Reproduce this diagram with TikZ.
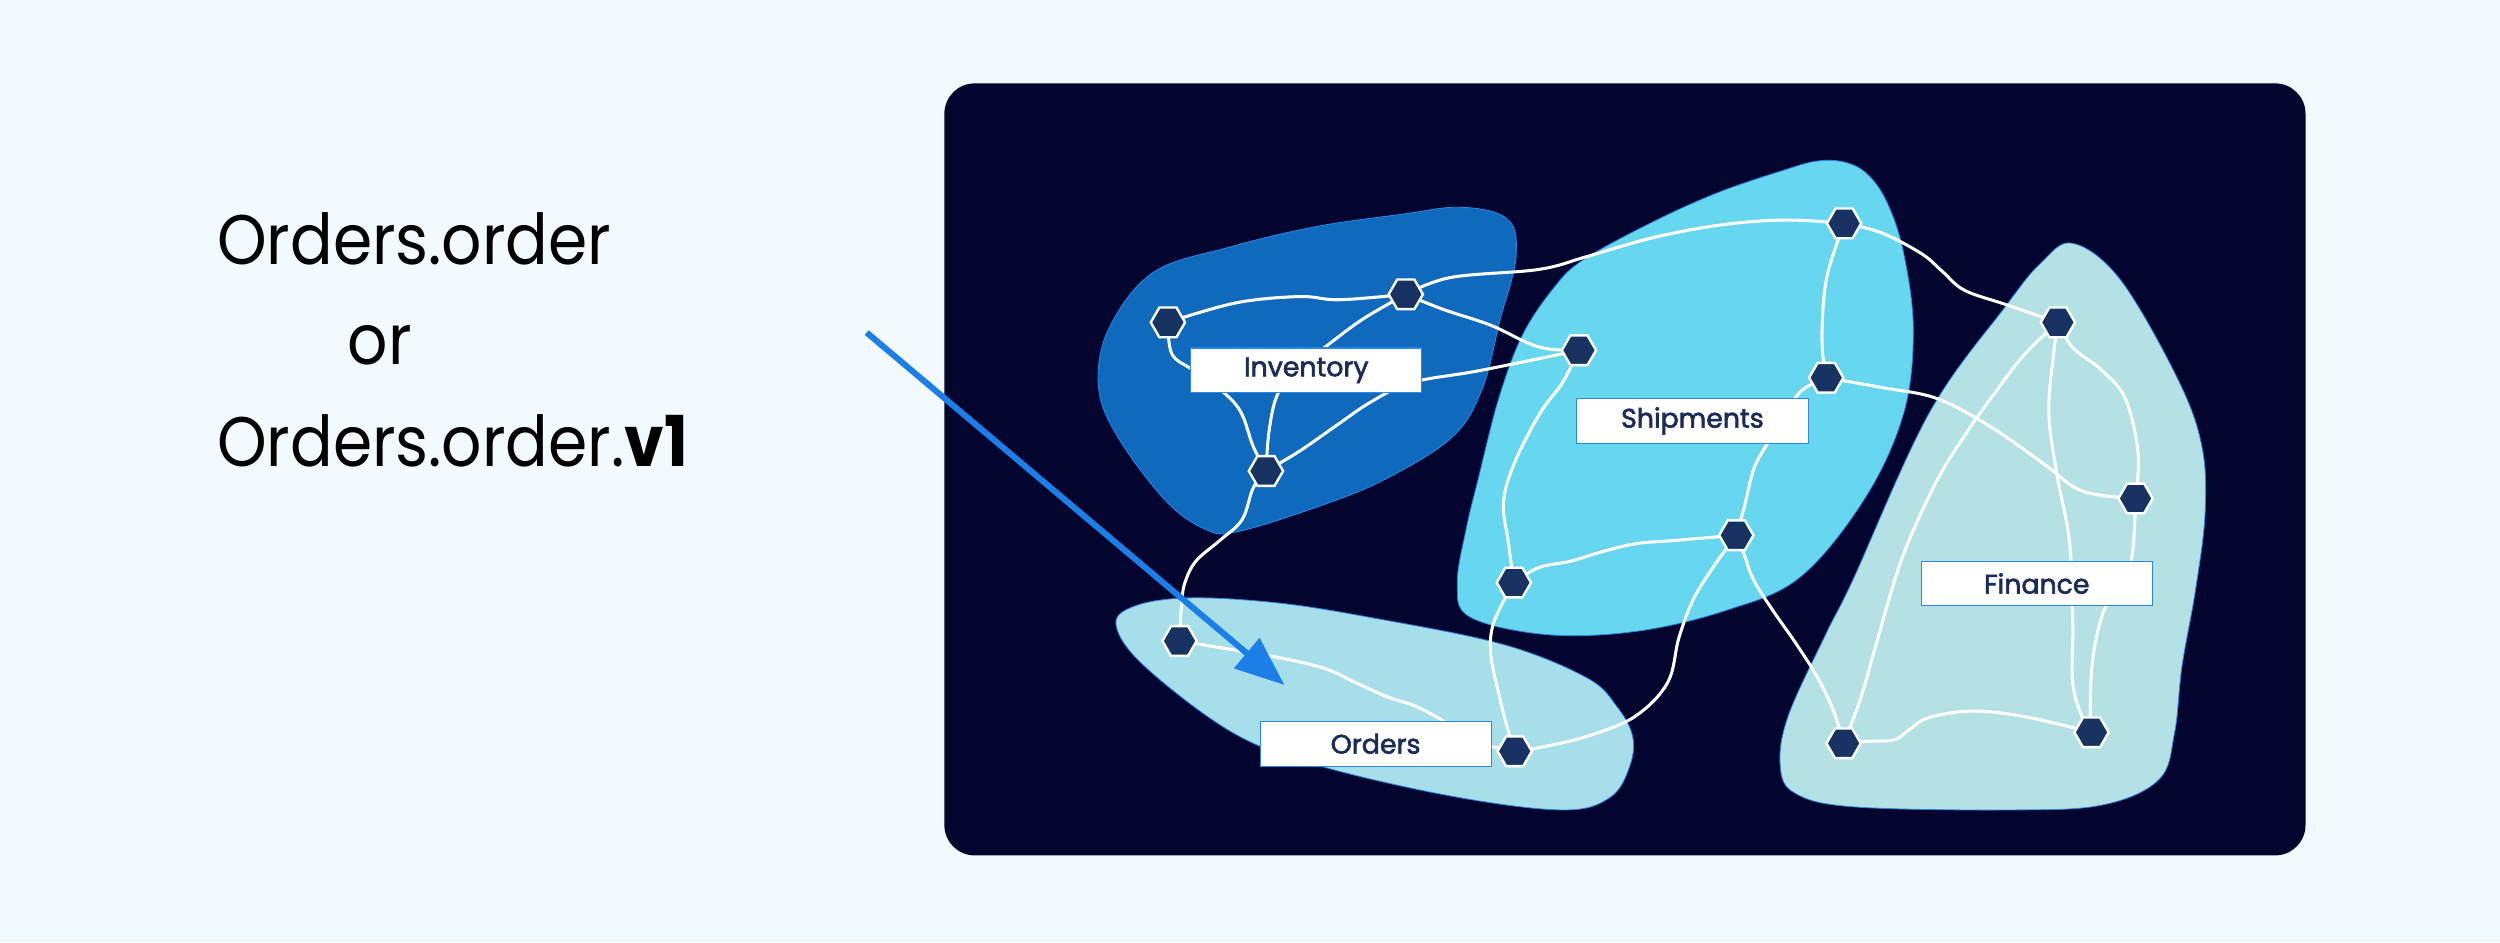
\documentclass[tikz,border=0pt]{standalone}
\usepackage{fontspec}
\setmainfont{Poppins}
\newfontfamily\labfont{Poppins}[FakeBold=2.2]
\usetikzlibrary{shapes.geometric,arrows.meta}
\definecolor{pagebg}{HTML}{F3FAFE}
\definecolor{panel}{HTML}{03052E}
\definecolor{invblue}{HTML}{0F69BD}
\definecolor{shipcyan}{HTML}{67D7F0}
\definecolor{ordblue}{HTML}{A6DEEA}
\definecolor{finteal}{HTML}{B4E1E4}
\definecolor{hexfill}{HTML}{183361}
\definecolor{edgeblue}{HTML}{2B86E6}
\definecolor{labtext}{HTML}{1B2D57}
\definecolor{arrowblue}{HTML}{1C7FE8}
\pgfdeclarelayer{bg}
\pgfdeclarelayer{edges}
\pgfsetlayers{bg,edges,main}
\begin{document}
\begin{tikzpicture}[x=1pt,y=-1pt,
  hexnode/.style={regular polygon, regular polygon sides=6, minimum size=21.5pt, inner sep=0pt, fill=hexfill, draw=white, line width=1.5pt},
  labelbox/.style={rectangle, fill=white, draw=edgeblue, line width=0.7pt, minimum width=145pt, minimum height=28pt, inner sep=0pt, text=labtext, font=\labfont\fontsize{16.8}{19}\selectfont},
  link/.style={draw=white, line width=1.9pt},
  blob/.style={draw=edgeblue, line width=0.5pt},
  bigtext/.style={anchor=base west, inner sep=0pt, text=black, font=\fontsize{44}{50}\selectfont}]
\useasboundingbox (0,0) rectangle (1568,591);

% left text
\node[bigtext] (t1) at (136,166) {\scalebox{0.9}[1]{Orders.order}};
\node[bigtext] (t2) at (218,228.5) {\scalebox{0.9}[1]{or}};
\node[bigtext] (t3) at (136,292.5) {\scalebox{0.9}[1]{Orders.order.{\bfseries v1}}};

% hex nodes
\node[hexnode] (I1) at (732.5,202.2) {};
\node[hexnode] (I2) at (881.7,184.6) {};
\node[hexnode] (I3) at (794,295.4) {};
\node[hexnode] (S0) at (990.3,219.7) {};
\node[hexnode] (S1) at (1156.6,140.1) {};
\node[hexnode] (S2) at (1145.4,236.9) {};
\node[hexnode] (S3) at (1089,335.7) {};
\node[hexnode] (S4) at (949.5,365.4) {};
\node[hexnode] (O1) at (739.8,402) {};
\node[hexnode] (O2) at (950,471.2) {};
\node[hexnode] (F1) at (1290.7,202.2) {};
\node[hexnode] (F2) at (1339.4,312.6) {};
\node[hexnode] (F3) at (1156.3,466.2) {};
\node[hexnode] (F4) at (1311.8,459.3) {};

% labels
\node[labelbox] (Linv) at (819.3,232.3) {Inventory};
\node[labelbox] (Lship) at (1061.5,264) {Shipments};
\node[labelbox] (Lfin) at (1277.5,366) {Finance};
\node[labelbox] (Lord) at (862.8,466.5) {Orders};

% arrow
\coordinate (arrS) at (543.6,208.6);
\coordinate (arrE) at (805.6,429.6);
\draw[arrowblue, line width=3.8pt, -{Triangle[length=31pt,width=24pt]}] (arrS) -- (arrE);

\begin{pgfonlayer}{edges}
\draw[link] plot[smooth, tension=0.6] coordinates {(I1) (775,190) (815,186) (840,188) (I2)};
\draw[link] plot[smooth, tension=0.6] coordinates {(I1) (735,222) (748,232) (765,244) (778,258) (786,280) (I3)};
\draw[link] plot[smooth, tension=0.6] coordinates {(I2) (855,200) (832,217) (812,233) (801,248) (796,270) (I3)};
\draw[link] plot[smooth, tension=0.6] coordinates {(I2) (905,194) (935,204) (958,215) (972,219) (S0)};
\draw[link] plot[smooth, tension=0.6] coordinates {(I2) (910,174) (965,169) (995,161) (1037,149) (1080,141) (1120,138) (S1)};
\draw[link] plot[smooth, tension=0.6] coordinates {(I3) (815,283) (838,267) (860,252) (885,240) (925,233) (965,225) (S0)};
\draw[link] plot[smooth, tension=0.6] coordinates {(I3) (786,306) (779,326) (765,339) (750,352) (743,366) (741,380) (O1)};
\draw[link] plot[smooth, tension=0.6] coordinates {(S0) (980,240) (966,259) (950,290) (943,315) (946,340) (S4)};
\draw[link] plot[smooth, tension=0.6] coordinates {(S4) (965,356) (985,352) (1005,346) (1026,341) (1050,339) (S3)};
\draw[link] plot[smooth, tension=0.6] coordinates {(S4) (937,390) (935,410) (940,435) (945,455) (O2)};
\draw[link] plot[smooth, tension=0.6] coordinates {(O1) (770,407) (800,412) (830,419) (850,428) (870,437) (888,443) (905,452) (925,465) (O2)};
\draw[link] plot[smooth, tension=0.6] coordinates {(S3) (1075,355) (1062,376) (1053,400) (1046,428) (1026,449) (998,461) (970,468) (O2)};
\draw[link] plot[smooth, tension=0.6] coordinates {(S3) (1094,348) (1100,364) (1112,383) (1126,403) (1140,425) (1150,446) (F3)};
\draw[link] plot[smooth, tension=0.6] coordinates {(S1) (1149,162) (1145,178) (1143,200) (1143,220) (S2)};
\draw[link] plot[smooth, tension=0.6] coordinates {(S2) (1130,245) (1118,262) (1108,279) (1100,294) (1094,318) (S3)};
\draw[link] plot[smooth, tension=0.6] coordinates {(S1) (1180,146) (1205,159) (1218,170) (1232,182) (1258,191) (F1)};
\draw[link] plot[smooth, tension=0.6] coordinates {(S2) (1180,243) (1215,250) (1249,268) (1282,291) (1306,308) (F2)};
\draw[link] plot[smooth, tension=0.6] coordinates {(F1) (1270,222) (1250,248) (1233,272) (1214,303) (1193,350) (1177,403) (1167,438) (F3)};
\draw[link] plot[smooth, tension=0.6] coordinates {(F1) (1288,222) (1285,259) (1290,297) (1298,340) (1300,390) (1300,428) (1306,450) (F4)};
\draw[link] plot[smooth, tension=0.6] coordinates {(F1) (1300,218) (1318,232) (1333,250) (1341,284) (F2)};
\draw[link] plot[smooth, tension=0.6] coordinates {(F2) (1339,325) (1337,350) (1330,370) (1320,382) (1313,410) (1311,440) (F4)};
\draw[link] plot[smooth, tension=0.6] coordinates {(F3) (1170,465) (1188,464) (1197,458) (1210,450) (1237,446) (1270,449.5) (F4)};
\end{pgfonlayer}

\begin{pgfonlayer}{bg}
\fill[pagebg] (0,0) rectangle (1568,591);
\fill[panel, rounded corners=19pt] (592.3,52.3) rectangle (1446,536.5);
% Inventory blob
\filldraw[blob, fill=invblue] plot[smooth cycle, tension=0.6] coordinates {(912,130) (937,133) (949,142) (951,159) (948,176) (941,200) (930,243) (911,274) (868,301) (826,318) (776,333.5) (756,332) (731,314) (701,274) (689,243) (695,207) (723,171) (771,155) (826,142) (882,134)};
% Shipments blob
\filldraw[blob, fill=shipcyan] plot[smooth cycle, tension=0.6] coordinates {(914,366) (920,330) (927,301) (940,250) (955,210) (975,180) (993,163) (1035,140) (1077,121) (1118,107) (1140,101) (1158,102) (1172,110) (1184,128) (1194,159) (1200,207) (1194,259) (1170,312) (1129,362) (1082,383) (1026,396) (970,398) (922,387)};
% Finance blob
\filldraw[blob, fill=finteal] plot[smooth cycle, tension=0.6] coordinates {(1300,152.6) (1330,175.6) (1366,238) (1381,280) (1383,322) (1377,370) (1368.5,418) (1363.8,460) (1354,489) (1318,505) (1258,508) (1162,506) (1126,497.6) (1116.6,480.8) (1121.4,449.5) (1145.4,397.2) (1162,364) (1210,259) (1258,192) (1280,165)};
% Orders blob
\filldraw[blob, fill=ordblue] plot[smooth cycle, tension=0.6] coordinates {(700,392) (712,380) (746,375) (800,378) (858,387) (942,404) (995,425) (1014,443) (1024,462) (1022,481) (1010,500) (981,508) (914,500) (830,481) (774,460) (718,418)};
\end{pgfonlayer}
\end{tikzpicture}
\end{document}
